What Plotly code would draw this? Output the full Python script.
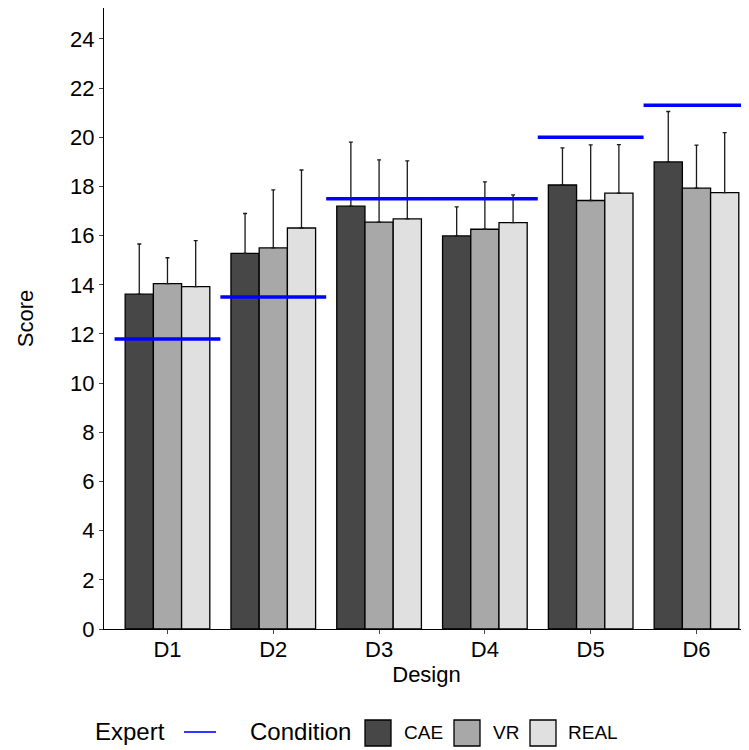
import plotly.graph_objects as go

designs = ["D1", "D2", "D3", "D4", "D5", "D6"]
conditions = ["CAE", "VR", "REAL"]
colors = ["#474747", "#a8a8a8", "#e0e0e0"]

means = {
    "CAE":  [13.62, 15.28, 17.20, 15.99, 18.06, 19.00],
    "VR":   [14.05, 15.50, 16.55, 16.26, 17.43, 17.93],
    "REAL": [13.93, 16.31, 16.68, 16.53, 17.73, 17.75],
}
upper = {
    "CAE":  [15.66, 16.90, 19.80, 17.17, 19.57, 21.05],
    "VR":   [15.10, 17.86, 19.08, 18.19, 19.69, 19.68],
    "REAL": [15.80, 18.67, 19.04, 17.66, 19.70, 20.19],
}
expert = [11.8, 13.5, 17.5, 17.5, 20.0, 21.3]

xpos = list(range(1, len(designs) + 1))
FONT = "Liberation Sans, Arial, sans-serif"

OFF = 8  # default page body margin offsets the figure in the browser window
W, H = 749 - OFF, 750 - OFF
ML, MT, MB = 104 - OFF, 0, 121
PW, PH = W - ML, H - MT - MB
YTOP = 25.3 - (OFF - 7) / 24.58


def px(x):
    return (x - OFF - ML) / PW


def py(y):
    return (H - MB - (y - OFF)) / PH


fig = go.Figure()
for c, col in zip(conditions, colors):
    err = [u - m for u, m in zip(upper[c], means[c])]
    fig.add_trace(go.Bar(
        x=xpos, y=means[c], name=c, showlegend=False,
        marker=dict(color=col, line=dict(color="black", width=1.3)),
        error_y=dict(type="data", symmetric=False, array=err, arrayminus=[0] * len(err),
                     color="#1a1a1a", thickness=1.3, width=2),
    ))

ex, ey = [], []
for x, v in zip(xpos, expert):
    ex += [x - 0.5, x + 0.5, None]
    ey += [v, v, None]
fig.add_trace(go.Scatter(x=ex, y=ey, mode="lines", line=dict(color="#0000ff", width=3.5),
                         name="Expert", showlegend=False))

# Legend (drawn manually to match ggplot key sizes)
shapes = []
annotations = []
annotations.append(dict(text="Expert", x=px(93), y=py(731), xref="paper", yref="paper",
                        xanchor="left", yanchor="middle", showarrow=False,
                        font=dict(size=24, family=FONT, color="black")))
shapes.append(dict(type="line", x0=px(184), x1=px(216), y0=py(732), y1=py(732),
                   xref="paper", yref="paper", line=dict(color="#0000ff", width=1.6)))
annotations.append(dict(text="Condition", x=px(248), y=py(731), xref="paper", yref="paper",
                        xanchor="left", yanchor="middle", showarrow=False,
                        font=dict(size=24, family=FONT, color="black")))
box_x = [365, 454, 530]
lab_x = [402, 491, 566]
for c, col, bx, lx in zip(conditions, colors, box_x, lab_x):
    shapes.append(dict(type="rect", x0=px(bx), x1=px(bx + 26), y0=py(746), y1=py(720),
                       xref="paper", yref="paper", fillcolor=col,
                       line=dict(color="black", width=1.3)))
    annotations.append(dict(text=c, x=px(lx), y=py(732), xref="paper", yref="paper",
                            xanchor="left", yanchor="middle", showarrow=False,
                            font=dict(size=19, family=FONT, color="black")))

fig.update_layout(
    width=W, height=H,
    margin=dict(l=ML, r=0, t=MT, b=MB),
    plot_bgcolor="white", paper_bgcolor="white",
    barmode="group", bargap=0.2, bargroupgap=0,
    font=dict(family=FONT, color="black", size=22),
    showlegend=False,
    shapes=shapes, annotations=annotations,
    xaxis=dict(range=[0.4, 0.4 + PW / 105.8], tickvals=xpos, ticktext=designs, showline=True,
               linecolor="black", linewidth=1.3, ticks="outside", ticklen=4, tickwidth=1.3,
               tickfont=dict(size=22), showgrid=False, zeroline=False, automargin=False,
               ticklabelstandoff=-4,
               title=dict(text="Design", font=dict(size=22), standoff=0)),
    yaxis=dict(range=[0, YTOP], tickvals=list(range(0, 25, 2)), showline=True,
               linecolor="black", linewidth=1.3, ticks="outside", ticklen=4, tickwidth=1.3,
               tickfont=dict(size=22), showgrid=False, zeroline=False, automargin=False,
               title=dict(text="Score", font=dict(size=22), standoff=30)),
)

fig.write_html("out.html")
